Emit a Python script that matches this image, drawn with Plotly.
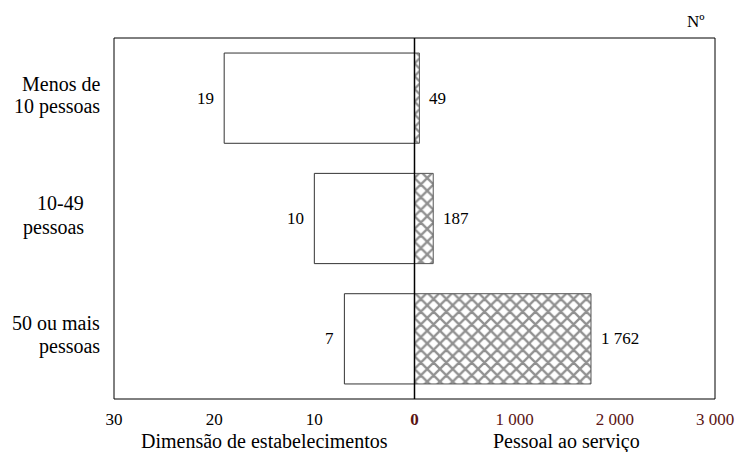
import plotly.graph_objects as go

categories = ["Menos de 10 pessoas", "10-49 pessoas", "50 ou mais pessoas"]
estabelecimentos = [19, 10, 7]
pessoal = [49, 187, 1762]
left_ticks = [30, 20, 10, 0]
left_ticktext = ["30", "20", "10", ""]
right_ticks = [0, 1000, 2000, 3000]
right_ticktext = ["<b>0</b>", "1 000", "2 000", "3 000"]

FONT = "'Liberation Serif', 'Times New Roman', Times, serif"
W, H = 746, 452
L, R, T, B = 114, 24, 38, 53
PW, PH = W - L - R, H - T - B
ypos = list(range(len(categories)))


def px2paper(px, py):
    return (px - L) / PW, 1 - (py - T) / PH


fig = go.Figure()
fig.add_trace(go.Bar(
    x=estabelecimentos, y=ypos, orientation="h", width=0.75,
    marker=dict(color="white", line=dict(color="#333333", width=1)),
    xaxis="x", yaxis="y", showlegend=False, hoverinfo="x",
))
fig.add_trace(go.Bar(
    x=pessoal, y=ypos, orientation="h", width=0.75,
    marker=dict(color="white", line=dict(color="#555555", width=1),
                pattern=dict(shape="x", fgcolor="#222222", bgcolor="white",
                             size=9, solidity=0.45)),
    xaxis="x2", yaxis="y2", showlegend=False, hoverinfo="x",
))

ann = []
for i, v in enumerate(estabelecimentos):
    ann.append(dict(x=v, y=i, xref="x", yref="y", text=str(v), showarrow=False,
                    xanchor="right", xshift=-8, font=dict(size=17, color="black", family=FONT)))
for i, v in enumerate(pessoal):
    t = f"{v:,}".replace(",", " ")
    ann.append(dict(x=v, y=i, xref="x2", yref="y2", text=t, showarrow=False,
                    xanchor="left", xshift=8, font=dict(size=17, color="black", family=FONT)))

cat_lines = [
    [("Menos de", 102, 84, "right"), ("10 pessoas", 102, 107, "right")],
    [("10-49", 60, 203, "center"), ("pessoas", 53, 227, "center")],
    [("50 ou mais", 102, 323, "right"), ("pessoas", 102, 346, "right")],
]
for lines in cat_lines:
    for txt, px, py, anchor in lines:
        fx, fy = px2paper(px, py)
        ann.append(dict(x=fx, y=fy, xref="paper", yref="paper",
                        text=txt, showarrow=False, xanchor=anchor, yanchor="middle",
                        font=dict(size=20, color="black", family=FONT)))
fx, fy = px2paper(703, 22)
ann.append(dict(x=fx, y=fy, xref="paper", yref="paper", text="Nº",
                showarrow=False, xanchor="center", yanchor="middle",
                font=dict(size=17, color="black", family=FONT)))
for txt, px in [("Dimensão de estabelecimentos", 266), ("Pessoal ao serviço", 572)]:
    fx, fy = px2paper(px, 441)
    ann.append(dict(x=fx, y=fy, xref="paper", yref="paper", text=txt,
                    showarrow=False, xanchor="center", yanchor="middle",
                    font=dict(size=20, color="black", family=FONT)))

fig.update_layout(
    width=W, height=H,
    margin=dict(l=L, r=R, t=T, b=B),
    paper_bgcolor="white", plot_bgcolor="white",
    font=dict(family=FONT, size=17, color="black"),
    xaxis=dict(domain=[0, 0.5], range=[30, 0], tickvals=left_ticks, ticktext=left_ticktext,
               showgrid=False, zeroline=False, showline=False, ticks="",
               ticklabelstandoff=8,
               tickfont=dict(size=17, color="black", family=FONT),
               anchor="y", fixedrange=True),
    xaxis2=dict(domain=[0.5, 1], range=[0, 3000], tickvals=right_ticks, ticktext=right_ticktext,
                showgrid=False, zeroline=False, showline=False, ticks="",
                ticklabelstandoff=8,
                tickfont=dict(size=17, color="#5a1414", family=FONT),
                anchor="y2", fixedrange=True),
    yaxis=dict(range=[2.5, -0.5], showticklabels=False, showgrid=False, zeroline=False,
               ticks="", anchor="x", fixedrange=True),
    yaxis2=dict(range=[2.5, -0.5], showticklabels=False, showgrid=False, zeroline=False,
                ticks="", anchor="x2", matches="y", fixedrange=True),
    annotations=ann,
    shapes=[
        dict(type="rect", xref="paper", yref="paper", x0=0, x1=1, y0=0, y1=1,
             line=dict(color="black", width=1), fillcolor="rgba(0,0,0,0)", layer="above"),
        dict(type="line", xref="paper", yref="paper", x0=0.5, x1=0.5, y0=0, y1=1,
             line=dict(color="black", width=1.5), layer="above"),
    ],
)

fig.write_html("out.html", config={"displayModeBar": False},
               post_script="document.body.style.margin='0';document.body.style.overflow='hidden';")
